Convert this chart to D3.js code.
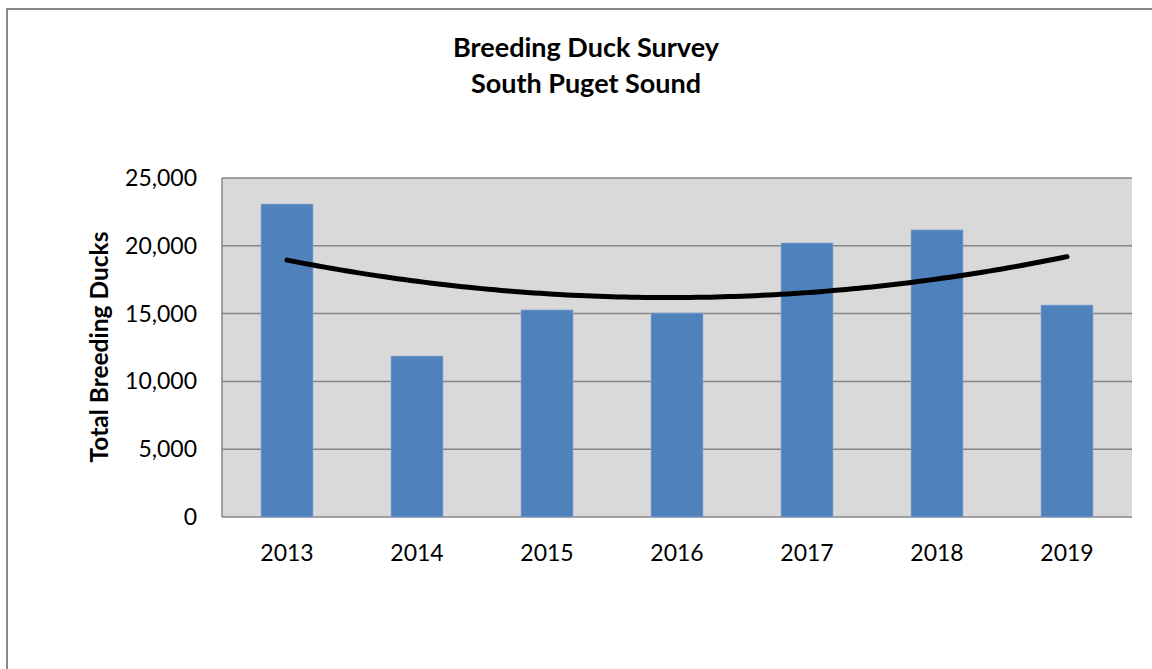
<!DOCTYPE html>
<html><head><meta charset="utf-8">
<script src="https://cdn.jsdelivr.net/npm/d3@7"></script>
<style>body{margin:0;background:#fff;}svg{display:block;font-family:Lato,"Open Sans",sans-serif;}</style>
</head><body><svg id="c" width="1152" height="669"></svg>
<script>
const years = ["2013","2014","2015","2016","2017","2018","2019"];
const ducks = [23080, 11870, 15270, 15040, 20210, 21170, 15630];
const yTicks = [0, 5000, 10000, 15000, 20000, 25000];
const titleLines = ["Breeding Duck Survey", "South Puget Sound"];
const yTitle = "Total Breeding Ducks";

const svg = d3.select("#c");
// outer chart border
svg.append("rect").attr("x",7).attr("y",9).attr("width",1160).attr("height",680)
  .attr("fill","#fff").attr("stroke","#888").attr("stroke-width",2);

const L=222, R=1132, T=178, B=517;
const x = d3.scaleBand().domain(years).range([L,R]).paddingInner(0.6).paddingOuter(0.3);
const y = d3.scaleLinear().domain([0,25000]).range([B,T]);

svg.append("rect").attr("x",L).attr("y",T).attr("width",R-L).attr("height",B-T).attr("fill","#D9D9D9");
svg.append("g").selectAll("line").data(yTicks).join("line")
  .attr("x1",L).attr("x2",R).attr("y1",d=>y(d)).attr("y2",d=>y(d))
  .attr("stroke","#868686").attr("stroke-width",1.5);
svg.append("line").attr("x1",L).attr("x2",L).attr("y1",T).attr("y2",B).attr("stroke","#868686").attr("stroke-width",1.5);

svg.append("g").selectAll("rect").data(years).join("rect")
  .attr("x",d=>x(d)).attr("width",x.bandwidth())
  .attr("y",(d,i)=>y(ducks[i])).attr("height",(d,i)=>B-y(ducks[i]))
  .attr("fill","#4F81BD").attr("stroke","#8FAEDA").attr("stroke-width",0.6);

// polynomial (order 2) trendline by least squares
const n=ducks.length, xs=d3.range(1,n+1);
const xm=d3.mean(xs), us=xs.map(v=>v-xm);
const Su2=d3.sum(us,u=>u*u), Su4=d3.sum(us,u=>u**4), Sy=d3.sum(ducks);
const b=d3.sum(us,(u,i)=>u*ducks[i])/Su2;
const Su2y=d3.sum(us,(u,i)=>u*u*ducks[i]);
const c=(Su2y - Su2*Sy/n)/(Su4 - Su2*Su2/n);
const a=(Sy - c*Su2)/n;
const xl = d3.scaleLinear().domain([1,n]).range([x(years[0])+x.bandwidth()/2, x(years[n-1])+x.bandwidth()/2]);
const pts=d3.range(1,n+0.001,0.05).map(t=>{const u=t-xm;return [xl(t), y(a+b*u+c*u*u)];});
svg.append("path").attr("d",d3.line()(pts)).attr("fill","none").attr("stroke","#000")
  .attr("stroke-width",5).attr("stroke-linecap","round");

// axes labels
const fmt=d3.format(",");
svg.append("g").selectAll("text").data(yTicks).join("text")
  .attr("x",197).attr("y",d=>y(d)).attr("dy","0.35em").attr("text-anchor","end")
  .attr("font-size",23).attr("fill","#000").text(d=>fmt(d));
svg.append("g").selectAll("text").data(years).join("text")
  .attr("x",d=>x(d)+x.bandwidth()/2).attr("y",561).attr("text-anchor","middle")
  .attr("font-size",23).attr("fill","#000").text(d=>d);

svg.append("text").attr("transform","translate(108,347) rotate(-90)").attr("text-anchor","middle")
  .attr("font-size",24.5).attr("font-weight","bold").text(yTitle);
svg.selectAll("text.title").data(titleLines).join("text").attr("class","title")
  .attr("x",586).attr("y",(d,i)=>57+i*36).attr("text-anchor","middle")
  .attr("font-size",27).attr("font-weight","bold").text(d=>d);
</script></body></html>
